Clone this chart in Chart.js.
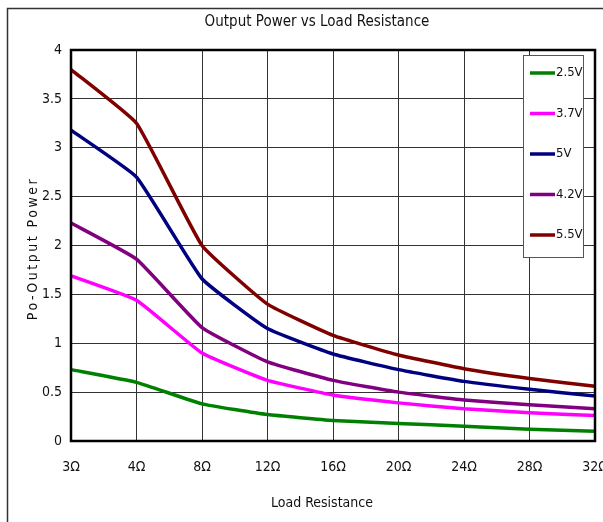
<!DOCTYPE html>
<html>
<head>
<meta charset="utf-8">
<script src="https://cdn.jsdelivr.net/npm/chart.js@4/dist/chart.umd.min.js"></script>
<style>
html,body{margin:0;padding:0;background:#fff;}
</style>
</head>
<body>
<canvas id="myChart" width="603" height="522"></canvas>
<script>
"use strict";

// load resistance categories
let loads=["3Ω","4Ω","8Ω","12Ω","16Ω","20Ω","24Ω","28Ω","32Ω"];
// output power per supply voltage
let v25=[0.73,0.60,0.38,0.27,0.21,0.18,0.15,0.12,0.10];
let v37=[1.69,1.44,0.90,0.62,0.47,0.39,0.33,0.29,0.26];
let v50=[3.18,2.70,1.66,1.15,0.89,0.73,0.61,0.53,0.46];
let v42=[2.23,1.86,1.16,0.81,0.62,0.50,0.42,0.37,0.33];
let v55=[3.80,3.25,2.00,1.40,1.08,0.88,0.74,0.64,0.56];
let yTicks=[0,0.5,1,1.5,2,2.5,3,3.5,4];

let FONT="'DejaVu Sans Condensed','Liberation Sans Narrow','Arial Narrow',sans-serif";
Chart.defaults.font.family=FONT;
Chart.defaults.font.size=14;
Chart.defaults.color="#111";

function ds(label, data, color) {
    return {label:label, data:data, borderColor:color, backgroundColor:color,
        borderWidth:3.5, pointRadius:0, tension:0.12, fill:false};
}

function text(ctx, str, x, y, size, spacing) {
    ctx.save();
    ctx.font=size+"px "+FONT;
    ctx.letterSpacing=(spacing||0)+"px";
    ctx.fillStyle="#111";
    ctx.textAlign="center";
    ctx.textBaseline="middle";
    ctx.fillText(str,x,y);
    ctx.restore();
}

let framePlugin={
    id:"frame",
    beforeDraw:function(chart){
        let ctx=chart.ctx;
        ctx.save();
        ctx.fillStyle="#fff";
        ctx.fillRect(0,0,chart.width,chart.height);
        ctx.strokeStyle="#333";
        ctx.lineWidth=1.5;
        ctx.beginPath();
        ctx.moveTo(7.5,chart.height+2);
        ctx.lineTo(7.5,8.5);
        ctx.lineTo(chart.width+2,8.5);
        ctx.stroke();
        ctx.restore();
    },
    afterDatasetsDraw:function(chart){
        let a=chart.chartArea, ctx=chart.ctx;
        ctx.save();
        ctx.strokeStyle="#000";
        ctx.lineWidth=2.5;
        ctx.strokeRect(a.left,a.top,a.right-a.left,a.bottom-a.top);
        ctx.restore();
    },
    afterDraw:function(chart){
        let ctx=chart.ctx, a=chart.chartArea;
        text(ctx,"Output Power vs Load Resistance",317,22,15);
        text(ctx,"Load Resistance",322,503,14);

        // y axis title, letter spaced
        ctx.save();
        ctx.translate(33,(a.top+a.bottom)/2+3);
        ctx.rotate(-Math.PI/2);
        text(ctx,"Po-Output Power",0,0,14,2.5);
        ctx.restore();

        // legend box
        let x0=523, y0=55, w=60, h=202;
        ctx.save();
        ctx.fillStyle="#fff";
        ctx.fillRect(x0,y0,w,h);
        ctx.strokeStyle="#555";
        ctx.lineWidth=1;
        ctx.strokeRect(x0+0.5,y0+0.5,w,h);
        ctx.font="13px "+FONT;
        ctx.textBaseline="middle";
        ctx.textAlign="left";
        chart.data.datasets.forEach(function(d,i){
            let y=y0+18+i*40.5;
            ctx.strokeStyle=d.borderColor;
            ctx.lineWidth=3.5;
            ctx.beginPath();
            ctx.moveTo(530,y);
            ctx.lineTo(555,y);
            ctx.stroke();
            ctx.fillStyle="#111";
            ctx.fillText(d.label,556,y);
        });
        ctx.restore();
    }
};

new Chart(document.getElementById("myChart"),{
    type:"line",
    data:{
        labels:loads,
        datasets:[
            ds("2.5V",v25,"#008000"),
            ds("3.7V",v37,"#ff00ff"),
            ds("5V",v50,"#000080"),
            ds("4.2V",v42,"#800080"),
            ds("5.5V",v55,"#800000")
        ]
    },
    options:{
        responsive:false,
        animation:false,
        layout:{padding:{left:0,right:8,top:50,bottom:0}},
        plugins:{
            legend:{display:false},
            tooltip:{enabled:false},
            title:{display:false}
        },
        scales:{
            x:{
                offset:false,
                grid:{color:"#333",lineWidth:1,drawTicks:false},
                border:{display:false},
                ticks:{padding:18,maxRotation:0,autoSkip:false},
                afterFit:function(s){ s.height=81; s.paddingLeft=0; s.paddingRight=0; }
            },
            y:{
                min:0,max:4,
                afterBuildTicks:function(s){ s.ticks=yTicks.map(function(v){return {value:v};}); },
                grid:{color:"#333",lineWidth:1,drawTicks:false},
                border:{display:false},
                ticks:{padding:9,callback:function(v){ return String(v); }},
                afterFit:function(s){ s.width=71; s.paddingTop=0; s.paddingBottom=0; }
            }
        }
    },
    plugins:[framePlugin]
});
</script>
</body>
</html>
